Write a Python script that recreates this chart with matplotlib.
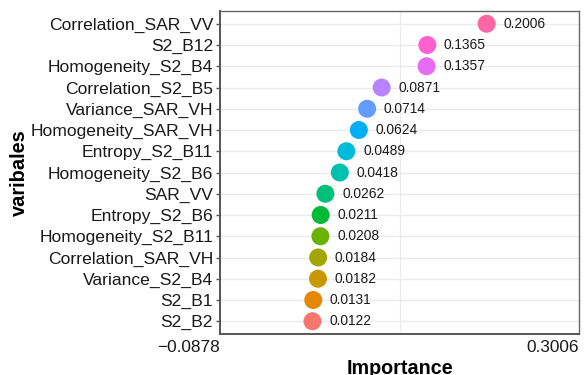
import matplotlib.pyplot as plt
import matplotlib.transforms as mtransforms
import numpy as np

plt.rcParams['font.family'] = ['Liberation Sans', 'DejaVu Sans']

# bottom to top
variables = ["S2_B2", "S2_B1", "Variance_S2_B4", "Correlation_SAR_VH",
             "Homogeneity_S2_B11", "Entropy_S2_B6", "SAR_VV", "Homogeneity_S2_B6",
             "Entropy_S2_B11", "Homogeneity_SAR_VH", "Variance_SAR_VH",
             "Correlation_S2_B5", "Homogeneity_S2_B4", "S2_B12", "Correlation_SAR_VV"]
importance = [0.0122, 0.0131, 0.0182, 0.0184, 0.0208, 0.0211, 0.0262, 0.0418,
              0.0489, 0.0624, 0.0714, 0.0871, 0.1357, 0.1365, 0.2006]
colors = ["#F8766D", "#E58700", "#C99800", "#A3A500", "#6BB100", "#00BA38",
          "#00BF7D", "#00C0AF", "#00BCD8", "#00B0F6", "#619CFF", "#B983FF",
          "#E76BF3", "#FD61D1", "#FF67A4"]
xmin, xmax = -0.0878, 0.3006

fig = plt.figure(figsize=(5.85, 3.75), dpi=100)
ax = fig.add_axes([220 / 585, 41 / 375, 359 / 585, 323 / 375])

y = np.arange(1, len(variables) + 1)
for yy in y:
    ax.axhline(yy, color="#EBEBEB", lw=1, zorder=0)
ax.axvline((xmin + xmax) / 2, color="#EBEBEB", lw=1, zorder=0)

ax.scatter(importance, y, s=168, c=colors, zorder=3, linewidths=0)
for xv, yv in zip(importance, y):
    ax.annotate(f"{xv:.4f}", (xv, yv), xytext=(12, 0), textcoords="offset points",
                va="center", ha="left", fontsize=9.9, color="#1a1a1a")

ax.set_xlim(xmin, xmax)
ax.set_ylim(0.4, len(variables) + 0.6)
ax.set_yticks(y)
ax.set_yticklabels(variables, fontsize=12.6, color="#1a1a1a")
ax.set_xticks([xmin, xmax])
ax.set_xticklabels([f"{xmin:.4f}".replace("-", "\u2212"), f"{xmax:.4f}"],
                   fontsize=12.4, color="#1a1a1a")
shift = mtransforms.ScaledTranslation(5 / 100, 0, fig.dpi_scale_trans)
for lab in ax.get_xticklabels():
    lab.set_horizontalalignment("right")
    lab.set_transform(lab.get_transform() + shift)
ax.tick_params(axis="y", length=3, width=1, color="#555555", pad=2)
ax.tick_params(axis="x", length=0, pad=4)

for s in ["left", "bottom"]:
    ax.spines[s].set_color("#555555")
    ax.spines[s].set_linewidth(1.4)
for s in ["top", "right"]:
    ax.spines[s].set_color("#666666")
    ax.spines[s].set_linewidth(1.0)

ax.set_xlabel("Importance", fontsize=14.2, fontweight="bold", labelpad=3)
ax.set_ylabel("varibales", fontsize=14.4, fontweight="bold")
ax.yaxis.set_label_coords((29 - 220) / 359, 0.5)

fig.savefig("out.png", dpi=100)
